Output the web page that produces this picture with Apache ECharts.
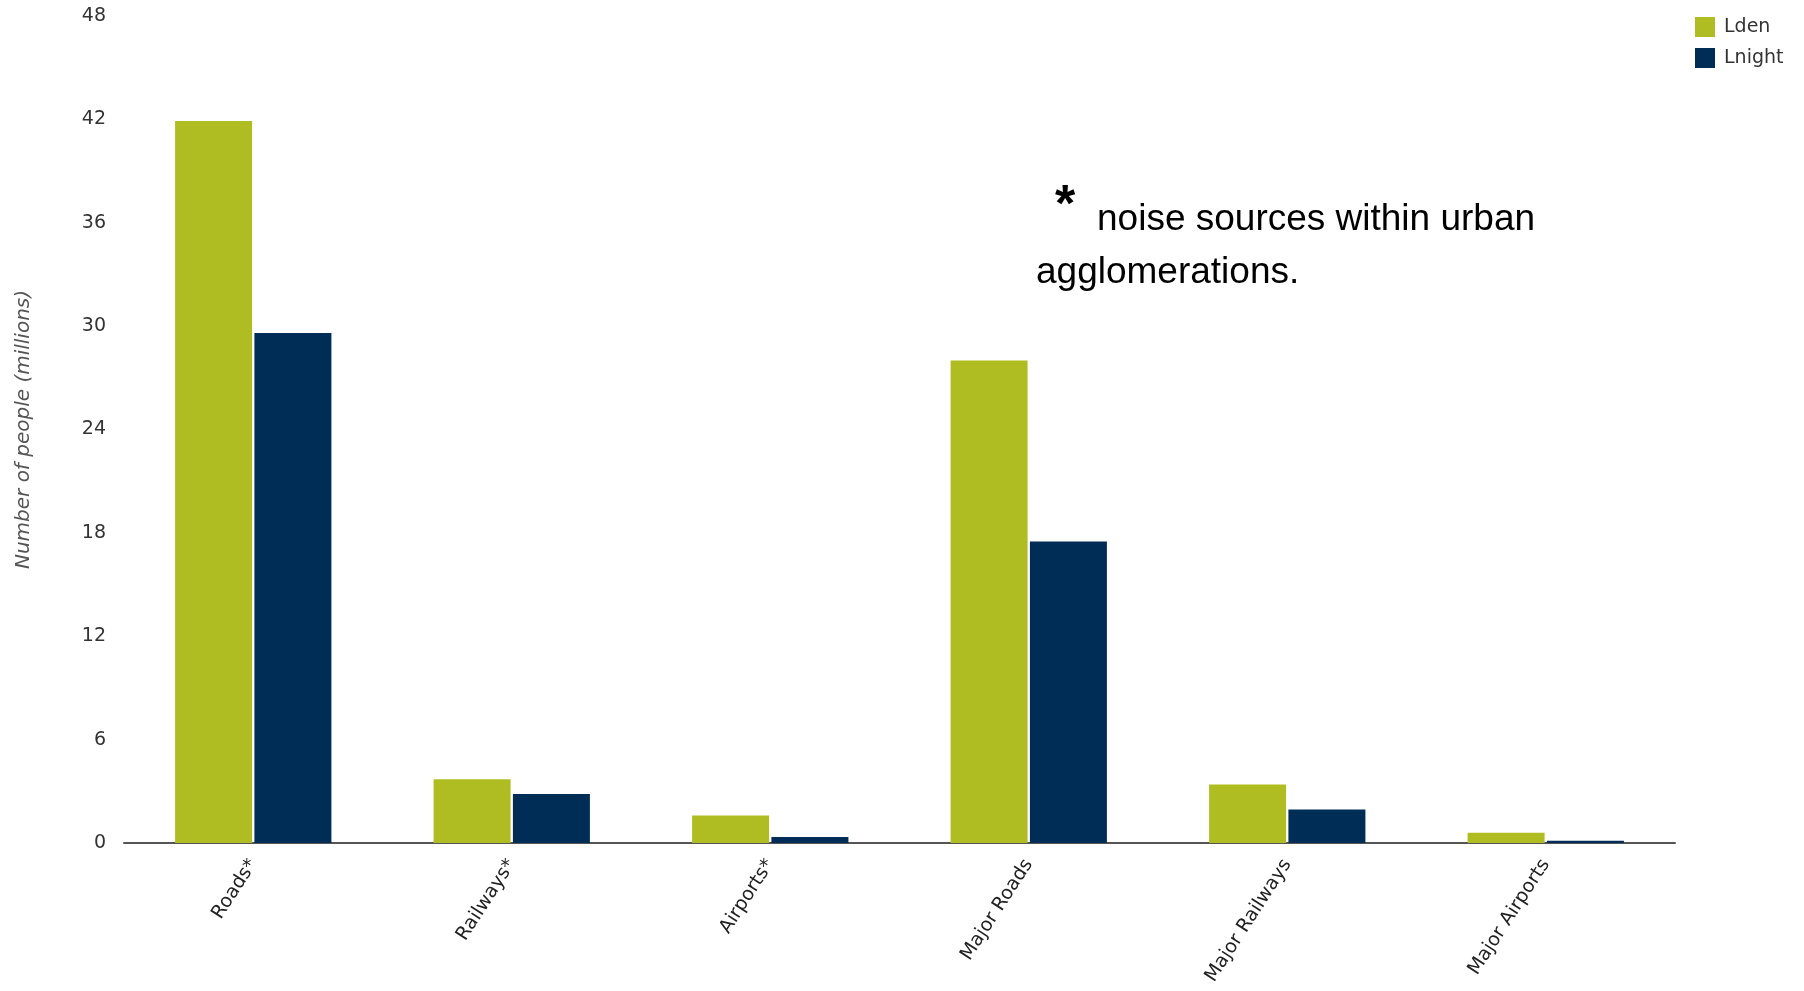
<!DOCTYPE html>
<html>
<head>
<meta charset="utf-8">
<script src="https://cdn.jsdelivr.net/npm/echarts@6/dist/echarts.min.js"></script>
<style>
  html, body { margin: 0; padding: 0; background: #fff; }
  #chart { width: 1804px; height: 991px; }
</style>
</head>
<body>
<div id="chart"></div>
<script>
// noise exposure by source, millions of people
const categories = ['Roads*', 'Railways*', 'Airports*', 'Major Roads', 'Major Railways', 'Major Airports'];
const lden = [41.9, 3.7, 1.6, 28.0, 3.4, 0.6];
const lnight = [29.6, 2.85, 0.35, 17.5, 1.95, 0.13];
const yTicks = [0, 6, 12, 18, 24, 30, 36, 42, 48];

let myChart = echarts.init(document.getElementById('chart'));
myChart.setOption({
    color: ['#afbd22', '#002d56'],
    animation: false,
    grid: { left: 124, right: 129, top: 16, bottom: 148 },
    legend: {
        orient: 'vertical',
        left: 1690,
        top: 12,
        itemWidth: 20,
        itemHeight: 20,
        itemGap: 11,
        icon: 'rect',
        textStyle: { fontFamily: 'DejaVu Sans', fontSize: 19, color: '#333', padding: [0, 0, 0, 4] },
        data: ['Lden', 'Lnight']
    },
    xAxis: {
        type: 'category',
        data: categories,
        axisLine: { lineStyle: { color: '#555', width: 2 } },
        axisTick: { show: false },
        axisLabel: {
            rotate: 57,
            margin: 18,
            fontFamily: 'DejaVu Sans',
            fontSize: 19,
            color: '#222'
        }
    },
    yAxis: {
        type: 'value',
        min: yTicks[0],
        max: yTicks[yTicks.length - 1],
        interval: 6,
        name: 'Number of people (millions)',
        nameLocation: 'middle',
        nameGap: 90,
        nameTextStyle: { fontFamily: 'DejaVu Sans', fontStyle: 'italic', fontSize: 20, color: '#555' },
        axisLine: { show: false },
        axisTick: { show: false },
        splitLine: { show: false },
        axisLabel: { margin: 18, fontFamily: 'DejaVu Sans', fontSize: 19, color: '#333' }
    },
    graphic: [
        { type: 'text', left: 1055, top: 181, style: { text: '*', font: 'bold 52px "Liberation Sans"', fill: '#000' } },
        { type: 'text', left: 1097, top: 201, style: { text: 'noise sources within urban', font: '37px "Liberation Sans"', fill: '#000' } },
        { type: 'text', left: 1036, top: 254, style: { text: 'agglomerations.', font: '37px "Liberation Sans"', fill: '#000' } }
    ],
    series: [
        {
            name: 'Lden',
            type: 'bar',
            data: lden,
            barWidth: 77,
            barGap: '3%'
        },
        {
            name: 'Lnight',
            type: 'bar',
            data: lnight,
            barWidth: 77
        }
    ]
});
</script>
</body>
</html>
